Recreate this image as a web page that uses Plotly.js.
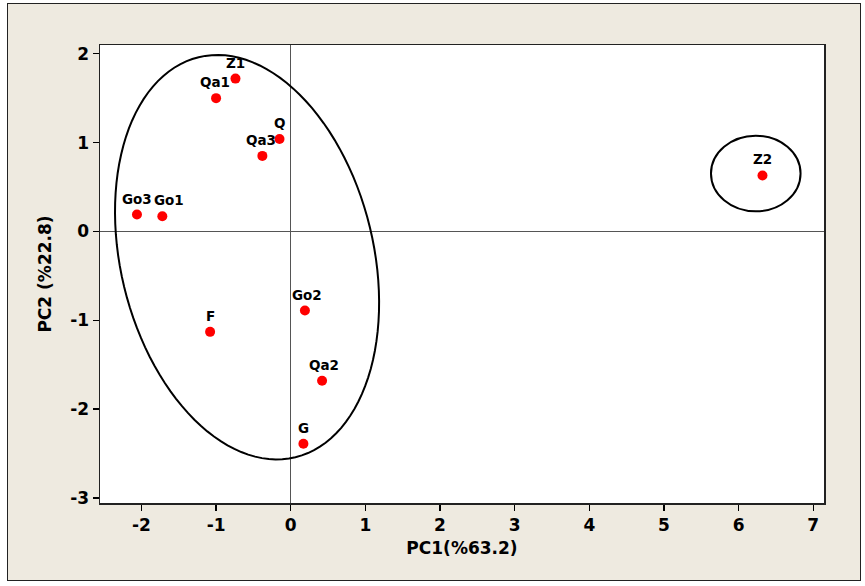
<!DOCTYPE html>
<html>
<head>
<meta charset="utf-8">
<script src="https://cdn.plot.ly/plotly-3.0.1.min.js"></script>
<style>
  html, body { margin: 0; padding: 0; background: #ffffff; }
  #chart { position: absolute; left: 7px; top: 3px; width: 852px; height: 576px; border: 1.5px solid #222; }
</style>
</head>
<body>
<div id="chart"></div>
<script>
// Sample labels and PCA scores
const labels = ["Z1", "Qa1", "Q", "Qa3", "Go3", "Go1", "Go2", "F", "Qa2", "G", "Z2"];
const pc1 = [-0.74, -1.00, -0.15, -0.38, -2.06, -1.72, 0.19, -1.08, 0.42, 0.17, 6.32];
const pc2 = [1.72, 1.50, 1.04, 0.85, 0.19, 0.17, -0.89, -1.13, -1.68, -2.39, 0.63];

const xTicks = [-2, -1, 0, 1, 2, 3, 4, 5, 6, 7];
const yTicks = [-3, -2, -1, 0, 1, 2];

// label horizontal nudges in pixels (style only)
const labelShiftX = [0, -1, 0, -1, 0, 7, 2, 0, 2, 0, 0];

// Group ellipse (centre and parametric coefficients, data units)
const bigEllipse = { cx: -0.585, cy: -0.29, a1: 0.648, b1: -1.646, a2: -2.251, b2: -0.335 };
const smallEllipse = { x0: 5.63, x1: 6.83, y0: 0.226, y1: 1.077 };

function ellipsePath(e) {
  const n = 120;
  let d = "";
  for (let i = 0; i <= n; i++) {
    const t = 2 * Math.PI * i / n;
    const x = e.cx + e.a1 * Math.cos(t) + e.b1 * Math.sin(t);
    const y = e.cy + e.a2 * Math.cos(t) + e.b2 * Math.sin(t);
    d += (i === 0 ? "M" : "L") + x.toFixed(4) + "," + y.toFixed(4);
  }
  return d + "Z";
}

const fontFam = "DejaVu Sans, Verdana, sans-serif";

const trace = {
  x: pc1, y: pc2,
  type: "scatter", mode: "markers",
  marker: { color: "#ff0000", size: 10 },
  hoverinfo: "skip"
};

const annotations = labels.map((lab, i) => ({
  x: pc1[i], y: pc2[i], xref: "x", yref: "y",
  text: "<b>" + lab + "</b>", showarrow: false,
  xshift: labelShiftX[i], yshift: 16,
  font: { family: fontFam, size: 13.5, color: "#000" }
}));

const layout = {
  width: 852, height: 576,
  margin: { l: 92, r: 36, t: 41, b: 77 },
  paper_bgcolor: "#eeeae0",
  plot_bgcolor: "#ffffff",
  showlegend: false,
  font: { family: fontFam, color: "#000" },
  annotations: annotations,
  xaxis: {
    range: [-2.555, 7.144],
    tickvals: xTicks,
    ticktext: xTicks.map(v => "<b>" + (v < 0 ? "-" + Math.abs(v) : v) + "</b>"),
    tickfont: { family: fontFam, size: 17, color: "#000" },
    ticks: "outside", ticklen: 6, tickwidth: 1.5, tickcolor: "#000",
    showgrid: false,
    zeroline: true, zerolinecolor: "#555", zerolinewidth: 1,
    showline: true, linecolor: "#222", linewidth: 1.5, mirror: true,
    title: { text: "<b>PC1(%63.2)</b>", font: { family: fontFam, size: 17, color: "#000" }, standoff: 8 }
  },
  yaxis: {
    range: [-3.056, 2.098],
    tickvals: yTicks,
    ticktext: yTicks.map(v => "<b>" + (v < 0 ? "-" + Math.abs(v) : v) + "</b>"),
    tickfont: { family: fontFam, size: 17, color: "#000" },
    ticks: "outside", ticklen: 6, tickwidth: 1.5, tickcolor: "#000",
    showgrid: false,
    zeroline: true, zerolinecolor: "#555", zerolinewidth: 1,
    showline: true, linecolor: "#222", linewidth: 1.5, mirror: true,
    title: { text: "<b>PC2 (%22.8)</b>", font: { family: fontFam, size: 17, color: "#000" }, standoff: 14 }
  },
  shapes: [
    { type: "path", xref: "x", yref: "y", path: ellipsePath(bigEllipse),
      line: { color: "#000", width: 2 }, fillcolor: "rgba(0,0,0,0)" },
    { type: "circle", xref: "x", yref: "y",
      x0: smallEllipse.x0, x1: smallEllipse.x1, y0: smallEllipse.y0, y1: smallEllipse.y1,
      line: { color: "#000", width: 2 }, fillcolor: "rgba(0,0,0,0)" }
  ]
};

Plotly.newPlot("chart", [trace], layout, { displayModeBar: false, staticPlot: true });
</script>
</body>
</html>
